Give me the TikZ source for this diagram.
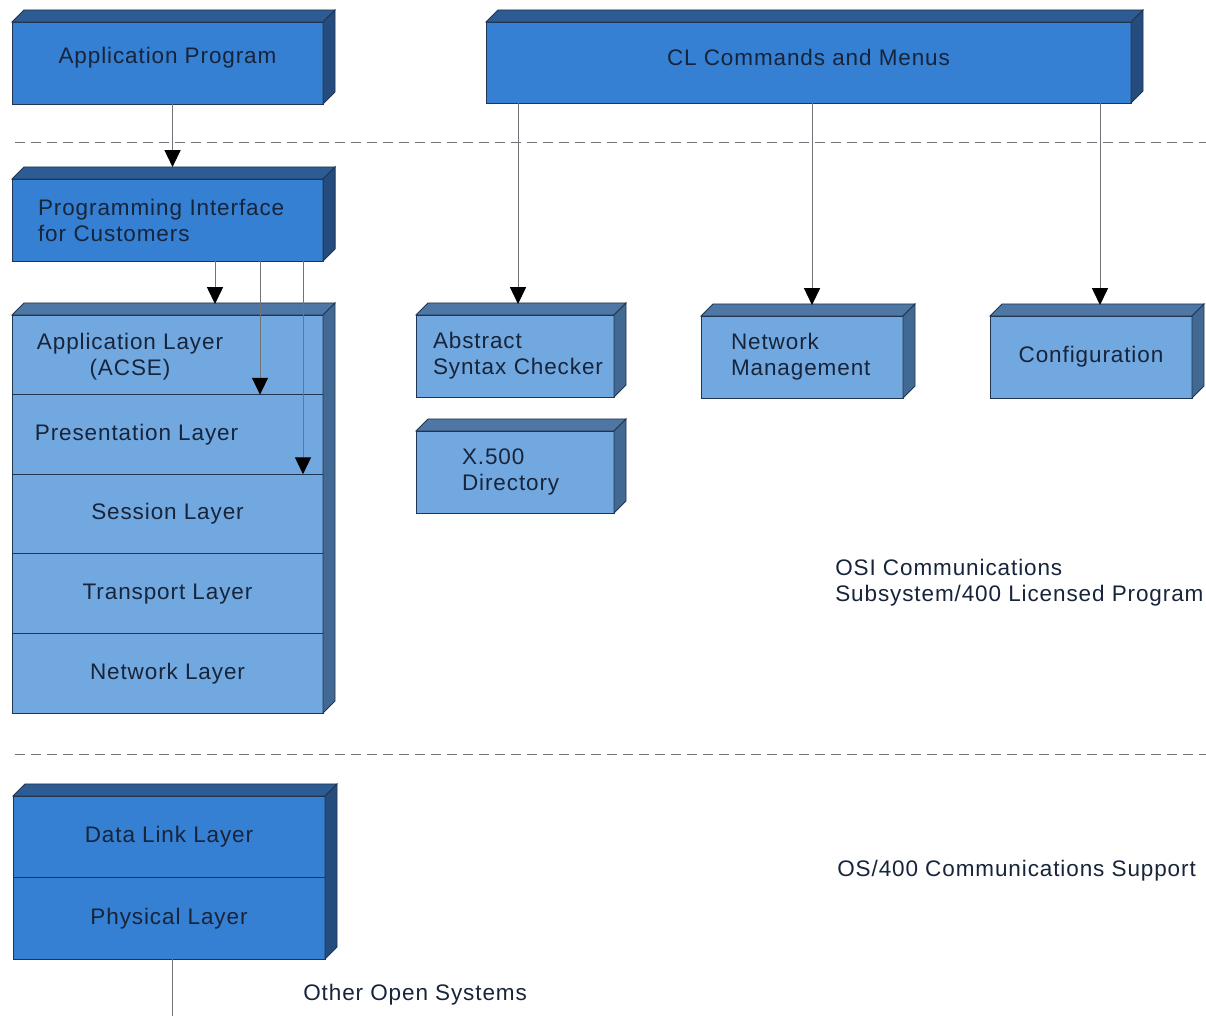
\documentclass[tikz,border=0pt]{standalone}
\usepackage{fontspec}
\setmainfont{Liberation Sans}[LetterSpace=4]
\usetikzlibrary{arrows.meta, positioning}

\definecolor{BoxBlue}{HTML}{3580D2}
\definecolor{BoxBlueTop}{HTML}{2D5C95}
\definecolor{BoxBlueSide}{HTML}{244C7E}
\definecolor{LayerBlue}{HTML}{72A8E0}
\definecolor{LayerTop}{HTML}{4F77A5}
\definecolor{LayerSide}{HTML}{426894}
\definecolor{InkBlue}{HTML}{17243A}
\definecolor{EdgeBlue}{HTML}{22354F}
\definecolor{LineGrey}{HTML}{707478}

\newcommand{\unitpx}{0.025cm}

\begin{document}
\begin{tikzpicture}[x=0.025cm, y=-0.025cm,
  >={Triangle[length=0.42cm, width=0.4cm, color=black]},
  front/.style={draw=EdgeBlue, line width=0.6pt, outer sep=0pt, inner sep=0pt,
                anchor=north west, text=InkBlue, font=\fontsize{16}{18.5}\selectfont},
  darkbox/.style={front, fill=BoxBlue},
  lightbox/.style={front, fill=LayerBlue},
  sz/.style 2 args={minimum width=#1*\unitpx, minimum height=#2*\unitpx},
  indent/.style 2 args={align=left, inner xsep=#1, text width=#2},
  layertext/.style={text=InkBlue, font=\fontsize{16}{18.5}\selectfont, align=center},
  face/.style={draw=EdgeBlue, line width=0.6pt, fill=#1},
  flow/.style={->, draw=LineGrey, line width=0.6pt},
  divider/.style={draw=LineGrey, line width=0.6pt, dash pattern=on 0.25cm off 0.15cm},
  note/.style={anchor=west, align=left, inner sep=0pt, text=InkBlue,
               font=\fontsize{16}{18.5}\selectfont}]

  \useasboundingbox[fill=white] (0,0) rectangle (1206,1016);

  % top row
  \node[darkbox, sz={311}{82}, text depth=0.4cm] (app) at (12,22) {Application Program};
  \node[darkbox, sz={645}{81}, text depth=0.25cm] (cl) at (486,22) {CL Commands and Menus};

  \node[darkbox, sz={311}{82}, indent={0.65cm}{6.475cm}] (api) at (12,179)
    {Programming Interface\\for Customers};

  % OSI layer stack
  \node[lightbox, sz={311}{79.6},
        label={[layertext, xshift=-37.5*\unitpx, yshift=-2*\unitpx]center:{Application Layer\\(ACSE)}}]
        (applayer) at (12,315) {};
  \node[lightbox, sz={311}{79.6}, below=0pt of applayer,
        label={[layertext, xshift=-31*\unitpx]center:Presentation Layer}] (preslayer) {};
  \node[lightbox, sz={311}{79.6}, below=0pt of preslayer] (seslayer) {Session Layer};
  \node[lightbox, sz={311}{79.6}, below=0pt of seslayer] (translayer) {Transport Layer};
  \node[lightbox, sz={311}{79.6}, below=0pt of translayer] (netlayer) {Network Layer};

  % tools under CL
  \node[lightbox, sz={198}{82}, indent={0.425cm}{4.1cm}] (asc) at (416,315)
    {Abstract\\\mbox{Syntax Checker}};
  \node[lightbox, sz={198}{82}, indent={1.15cm}{2.65cm}] (dir) at (416,431)
    {X.500\\Directory};
  \node[lightbox, sz={202}{82}, indent={0.75cm}{3.55cm}] (netmgmt) at (701,316)
    {Network\\Management};
  \node[lightbox, sz={202}{82}] (config) at (990,316) {Configuration};

  % lower layers
  \node[darkbox, sz={312}{81.5}] (linklayer) at (13,796) {Data Link Layer};
  \node[darkbox, sz={312}{81.5}, below=0pt of linklayer] (phylayer) {Physical Layer};

  % top and side faces
  \foreach \t/\b/\topc/\sidec in {app/app/BoxBlueTop/BoxBlueSide, cl/cl/BoxBlueTop/BoxBlueSide,
      api/api/BoxBlueTop/BoxBlueSide, linklayer/phylayer/BoxBlueTop/BoxBlueSide,
      applayer/netlayer/LayerTop/LayerSide, asc/asc/LayerTop/LayerSide,
      dir/dir/LayerTop/LayerSide, netmgmt/netmgmt/LayerTop/LayerSide,
      config/config/LayerTop/LayerSide} {
    \draw[face=\topc] (\t.north west) -- ++(12,-12) -- ([shift={(12,-12)}]\t.north east)
      -- (\t.north east) -- cycle;
    \draw[face=\sidec] (\t.north east) -- ++(12,-12) -- ([shift={(12,-12)}]\b.south east)
      -- (\b.south east) -- cycle;
  }

  % dashed boundaries
  \coordinate (upperL) at (15,142);
  \coordinate (upperR) at (1206,142);
  \coordinate (lowerL) at (15,754);
  \coordinate (lowerR) at (1206,754);
  \draw[divider] (upperL) -- (upperR);
  \draw[divider] (lowerL) -- (lowerR);

  % arrows
  \coordinate (apiTop) at ([shift={(5,-12)}]api.north);
  \coordinate (ascTop) at ([shift={(3,-11)}]asc.north);
  \coordinate (mgmtTop) at ([shift={(10,-11)}]netmgmt.north);
  \coordinate (configTop) at ([shift={(9,-11)}]config.north);
  \draw[flow] (app.south -| apiTop) -- (apiTop);
  \draw[flow] (cl.south -| ascTop) -- (ascTop);
  \draw[flow] (cl.south -| mgmtTop) -- (mgmtTop);
  \draw[flow] (cl.south -| configTop) -- (configTop);

  \coordinate (stackTop) at ([shift={(47.5,-11)}]applayer.north);
  \coordinate (presTop) at ([shift={(92.5,0)}]applayer.south);
  \coordinate (sesTop) at ([shift={(135.5,0)}]preslayer.south);
  \draw[flow] (api.south -| stackTop) -- (stackTop);
  \draw[flow] (api.south -| presTop) -- (presTop);
  \draw[flow] (api.south -| sesTop) -- (sesTop);

  \coordinate (wireEnd) at (172,1016);
  \draw[draw=LineGrey, line width=0.6pt] (phylayer.south -| wireEnd) -- (wireEnd);

  % region captions
  \node[note] (osi) at (835,583) {OSI Communications\\Subsystem/400 Licensed Program};
  \node[note] (support) at (837,871) {OS/400 Communications Support};
  \node[note] (others) at (303,995) {Other Open Systems};
\end{tikzpicture}
\end{document}
